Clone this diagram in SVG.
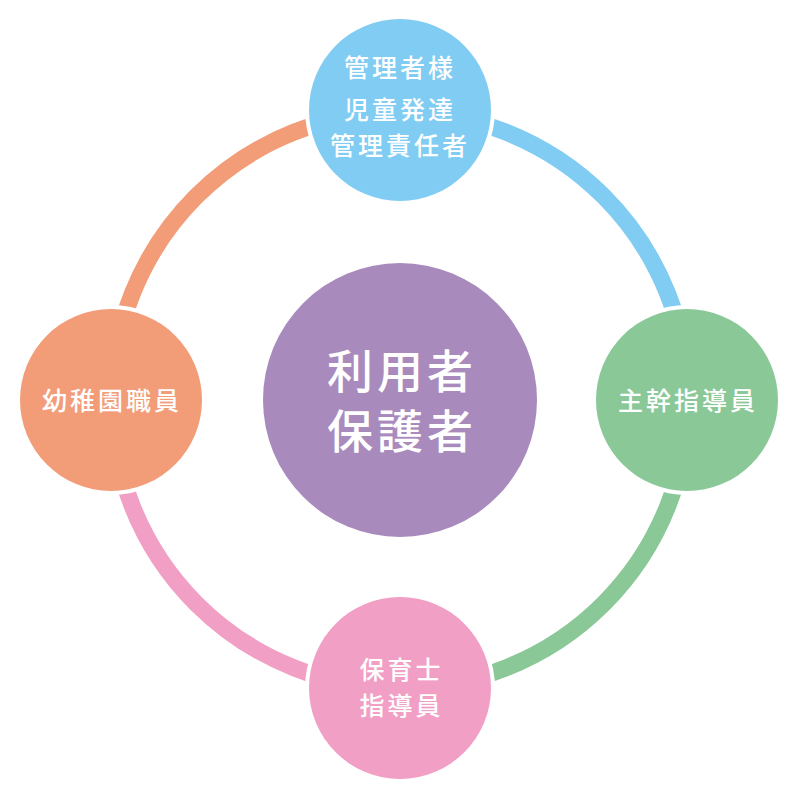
<svg xmlns="http://www.w3.org/2000/svg" width="800" height="800" viewBox="0 0 800 800">
<style>
.arc{fill:none;stroke-width:17}
.gap{fill:#fff}
.t{font-family:"Noto Sans CJK JP","Noto Sans CJK SC",sans-serif;fill:#fff;text-anchor:middle;font-weight:500}
.s{font-size:25px;letter-spacing:3px}
.b{font-size:46px;letter-spacing:4px}
</style>
<rect width="800" height="800" fill="#fff"/>
<g id="connectors">
<path class="arc" stroke="#80ccf2" d="M400,112 A288,288 0 0 1 688,400"/>
<path class="arc" stroke="#8ac897" d="M688,400 A288,288 0 0 1 400,688"/>
<path class="arc" stroke="#f29fc5" d="M400,688 A288,288 0 0 1 112,400"/>
<path class="arc" stroke="#f29c78" d="M112,400 A288,288 0 0 1 400,112"/>
</g>
<g id="center">
<circle cx="400" cy="400" r="137" fill="#a98abd"/>
<text class="t b" x="402" y="387.5">利用者</text>
<text class="t b" x="402" y="447.5">保護者</text>
</g>
<g id="top">
<circle class="gap" cx="400" cy="110" r="95"/>
<circle cx="400" cy="110" r="91" fill="#80ccf2"/>
<text class="t s" x="400" y="76.5">管理者様</text>
<text class="t s" x="400" y="118.5">児童発達</text>
<text class="t s" x="400" y="154.5">管理責任者</text>
</g>
<g id="right">
<circle class="gap" cx="687" cy="400" r="95"/>
<circle cx="687" cy="400" r="91" fill="#8ac897"/>
<text class="t s" x="688" y="409.5">主幹指導員</text>
</g>
<g id="bottom">
<circle class="gap" cx="400" cy="688" r="95"/>
<circle cx="400" cy="688" r="91" fill="#f29fc5"/>
<text class="t s" x="401.5" y="678.5">保育士</text>
<text class="t s" x="401.5" y="714.5">指導員</text>
</g>
<g id="left">
<circle class="gap" cx="111" cy="400" r="95"/>
<circle cx="111" cy="400" r="91" fill="#f29c78"/>
<text class="t s" x="112" y="409.5">幼稚園職員</text>
</g>
</svg>
